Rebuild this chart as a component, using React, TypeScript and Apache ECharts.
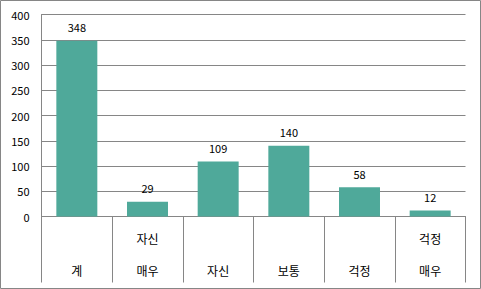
import React, { useEffect, useRef } from "react";
import * as echarts from "echarts";

const topLabels = ["", "자신", "", "", "", "걱정"];
const bottomLabels = ["계", "매우", "자신", "보통", "걱정", "매우"];
const values = [348, 29, 109, 140, 58, 12];
const yMin = 0;
const yMax = 400;
const yStep = 50;

const FONT = "'Noto Sans CJK KR', 'DejaVu Sans', sans-serif";
const GRAY = "#868686";

export default function App() {
  const ref = useRef<HTMLDivElement>(null);
  useEffect(() => {
    if (!ref.current) return;
    const chart = echarts.init(ref.current, null, { renderer: "svg" });
    const cats = bottomLabels.map((b, i) => topLabels[i] + "\n" + b);
    chart.setOption({
      animation: false,
      textStyle: { fontFamily: FONT },
      graphic: [
        {
          type: "rect",
          shape: { x: 0.5, y: 0.5, width: 480, height: 288 },
          style: { fill: "none", stroke: GRAY, lineWidth: 1 },
          silent: true,
        },
      ],
      grid: { left: 41.5, right: 15.5, top: 14.5, bottom: 72.5, containLabel: false },
      xAxis: {
        type: "category",
        data: cats,
        boundaryGap: true,
        axisLine: { show: true, lineStyle: { color: GRAY, width: 1 } },
        axisTick: { show: true, interval: 0, length: 66, lineStyle: { color: GRAY, width: 1 } },
        axisLabel: {
          interval: 0,
          margin: 6,
          color: "#000",
          fontSize: 12,
          fontFamily: FONT,
          lineHeight: 32,
          verticalAlign: "top",
        },
      },
      yAxis: {
        type: "value",
        min: yMin,
        max: yMax,
        interval: yStep,
        axisLine: { show: true, lineStyle: { color: GRAY, width: 1 } },
        axisTick: { show: false },
        axisLabel: { margin: 12, color: "#000", fontSize: 11, fontFamily: FONT },
        splitLine: { show: true, lineStyle: { color: GRAY, width: 1 } },
      },
      series: [
        {
          type: "bar",
          data: values,
          barWidth: "58%",
          itemStyle: { color: "#4FA99A" },
          label: {
            show: true,
            position: "top",
            distance: 8,
            color: "#000",
            fontSize: 11,
            fontFamily: FONT,
          },
        },
      ],
    });
    return () => chart.dispose();
  }, []);
  return (
    <div
      ref={ref}
      style={{ position: "fixed", left: 0, top: 0, width: 481, height: 289, background: "#fff" }}
    />
  );
}
